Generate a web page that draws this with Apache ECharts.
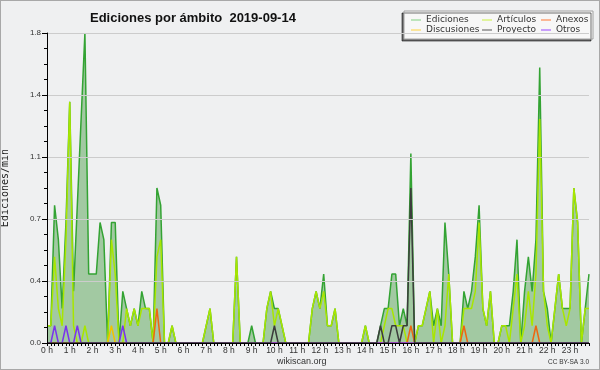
<!DOCTYPE html>
<html><head><meta charset="utf-8">
<script src="https://cdn.jsdelivr.net/npm/echarts@6/dist/echarts.min.js"></script>
<style>html,body{margin:0;padding:0;background:#eff0f1;}#c{width:598px;height:368px;border:1px solid #a8a8a8;}</style>
</head><body><div id="c"></div>
<script>
const title = 'Ediciones por ámbito  2019-09-14';
const hourLabels = ['0 h','1 h','2 h','3 h','4 h','5 h','6 h','7 h','8 h','9 h','10 h','11 h','12 h','13 h','14 h','15 h','16 h','17 h','18 h','19 h','20 h','21 h','22 h','23 h'];
const yTicks = [0, 0.36, 0.72, 1.08, 1.44, 1.8];
// 10-minute bins, 144 per day
const ediciones = [
 0.1,0.1,0.8,0.6,0.2,0.7,1.4,0.3,0.8,1.3,1.8,0.4,
 0.4,0.4,0.7,0.6,0,0.7,0.7,0,0.3,0.2,0.1,0.2,
 0.1,0.3,0.2,0.2,0,0.9,0.8,0,0,0.1,0,0,
 0,0,0,0,0,0,0.1,0.2,0,0,0,0,
 0,0,0.5,0,0,0,0.1,0,0,0,0.2,0.3,
 0.2,0.2,0.1,0,0,0,0,0,0,0,0.2,0.3,
 0.2,0.4,0.1,0.1,0.2,0,0,0,0,0,0,0,
 0.1,0,0,0,0.1,0.2,0.2,0.4,0.4,0.1,0.2,0.1,
 1.1,0,0.1,0.1,0.2,0.3,0.1,0.2,0.1,0.7,0.4,0,
 0,0,0.3,0.2,0.3,0.5,0.8,0.2,0.1,0.3,0,0,
 0.1,0.1,0.1,0.3,0.6,0,0.3,0.5,0.3,0.6,1.6,0.3,
 0.2,0,0.2,0.4,0.2,0.2,0.2,0.9,0.7,0,0.2,0.4
];
const articulos = [
 0.1,0.1,0.5,0.2,0.1,0.6,1.4,0.1,0,0,0.1,0,
 0,0,0,0,0,0.6,0.4,0,0,0.2,0.1,0.2,
 0.1,0.2,0.2,0.2,0,0.5,0.6,0,0,0.1,0,0,
 0,0,0,0,0,0,0.1,0.2,0,0,0,0,
 0,0,0.5,0,0,0,0,0,0,0,0.2,0.3,
 0.1,0.2,0.1,0,0,0,0,0,0,0,0.2,0.3,
 0.2,0.3,0.1,0.1,0.2,0,0,0,0,0,0,0,
 0.1,0,0,0,0,0.1,0.2,0.2,0.1,0.1,0.1,0,
 0,0,0.1,0.1,0.2,0.3,0,0.2,0,0.1,0.4,0,
 0,0,0.2,0.2,0.2,0.3,0.7,0.2,0.1,0.3,0,0,
 0.1,0.1,0,0.2,0.4,0,0.1,0.3,0.1,0.4,1.3,0.3,
 0.1,0,0.2,0.4,0.2,0.1,0.2,0.9,0.7,0,0.2,0.2
];
const discusiones = [
 0,0,0,0,0,0,0,0,0,0,0,0,
 0,0,0,0,0,0.1,0,0,0,0,0,0,
 0,0,0,0,0,0,0,0,0,0,0,0,
 0,0,0,0,0,0,0,0,0,0,0,0,
 0,0,0,0,0,0,0,0,0,0,0,0,
 0,0,0,0,0,0,0,0,0,0,0,0,
 0,0,0,0,0,0,0,0,0,0,0,0,
 0,0,0,0,0,0,0,0,0,0,0,0,
 0,0,0,0,0,0,0,0,0,0,0,0,
 0,0,0,0,0,0,0,0,0,0,0,0,
 0,0,0,0,0,0,0,0,0,0,0,0,
 0,0,0,0,0,0,0,0,0,0,0,0
];
const anexos = [
 0,0,0,0,0,0,0,0,0,0,0,0,
 0,0,0,0,0,0,0,0,0,0,0,0,
 0,0,0,0,0,0.2,0,0,0,0,0,0,
 0,0,0,0,0,0,0,0,0,0,0,0,
 0,0,0,0,0,0,0,0,0,0,0,0,
 0,0,0,0,0,0,0,0,0,0,0,0,
 0,0,0,0,0,0,0,0,0,0,0,0,
 0,0,0,0,0,0,0,0,0,0,0,0,
 0.1,0,0,0,0,0,0,0,0,0,0,0,
 0,0,0.1,0,0,0,0,0,0,0,0,0,
 0,0,0,0,0,0,0,0,0,0.1,0,0,
 0,0,0,0,0,0,0,0,0,0,0,0
];
const proyecto = [
 0,0,0,0,0,0,0,0,0,0,0,0,
 0,0,0,0,0,0,0,0,0,0,0,0,
 0,0,0,0,0,0,0,0,0,0,0,0,
 0,0,0,0,0,0,0,0,0,0,0,0,
 0,0,0,0,0,0,0,0,0,0,0,0,
 0.1,0,0,0,0,0,0,0,0,0,0,0,
 0,0,0,0,0,0,0,0,0,0,0,0,
 0,0,0,0,0.1,0,0,0.1,0.1,0,0.1,0.1,
 0.9,0,0,0,0,0,0,0,0,0,0,0,
 0,0,0,0,0,0,0,0,0,0,0,0,
 0,0,0,0,0,0,0,0,0,0,0,0,
 0,0,0,0,0,0,0,0,0,0,0,0
];
const otros = [
 0,0,0.1,0,0,0.1,0,0,0.1,0,0,0,
 0,0,0,0,0,0,0,0,0.1,0,0,0,
 0,0,0,0,0,0,0,0,0,0,0,0,
 0,0,0,0,0,0,0,0,0,0,0,0,
 0,0,0,0,0,0,0,0,0,0,0,0,
 0,0,0,0,0,0,0,0,0,0,0,0,
 0,0,0,0,0,0,0,0,0,0,0,0,
 0,0,0,0,0,0,0,0,0,0,0,0,
 0,0,0,0,0,0,0,0,0,0,0,0,
 0,0,0,0,0,0,0,0,0,0,0,0,
 0,0,0,0,0,0,0,0,0,0,0,0,
 0,0,0,0,0,0,0,0,0,0,0,0
];
const seriesColors = {Ediciones:'#33a333', 'Artículos':'#a8e600', Anexos:'#ee6611', Discusiones:'#f2c200', Proyecto:'#3c3c3c', Otros:'#7a33ee'};

const cats = ediciones.map((_, i) => String(i));

const chart = echarts.init(document.getElementById('c'));
function line(name, data, extra) {
  return Object.assign({
    name: name, type: 'line', data: data, symbol: 'none', smooth: false,
    color: seriesColors[name],
    lineStyle: { width: 1.5, color: seriesColors[name] },
    emphasis: { disabled: true }, animation: false
  }, extra || {});
}
const legendBase = {
  orient: 'vertical', top: 14, itemGap: 0, itemWidth: 10, itemHeight: 1,
  icon: 'rect', padding: 0, selectedMode: false,
  textStyle: { fontFamily: 'DejaVu Sans', fontSize: 9, color: '#333', lineHeight: 10 }
};
chart.setOption({
  backgroundColor: '#eff0f1',
  animation: false,
  title: {
    text: title, left: 84, top: 6,
    textStyle: { fontFamily: 'Liberation Sans', fontWeight: 'bold', fontSize: 13, color: '#111' }
  },
  graphic: [
    { type: 'rect', z: 5, shape: { x: 403, y: 10, width: 189, height: 28 },
      style: { fill: '#f7f7f7', stroke: '#a0a0a0', lineWidth: 1, shadowColor: 'rgba(0,0,0,0.55)', shadowOffsetX: -2, shadowOffsetY: 2, shadowBlur: 0 } },
    { type: 'text', z: 5, left: 276, top: 356,
      style: { text: 'wikiscan.org', fontFamily: 'Liberation Sans', fontSize: 9, fill: '#333' } },
    { type: 'text', z: 5, right: 10, top: 358,
      style: { text: 'CC BY-SA 3.0', fontFamily: 'Liberation Sans', fontSize: 6.5, fill: '#333' } }
  ],
  legend: [
    Object.assign({}, legendBase, { left: 410, z: 6, data: [
      { name: 'Ediciones', itemStyle: { color: '#80d080' } }, { name: 'Discusiones', itemStyle: { color: '#ffd23c' } } ] }),
    Object.assign({}, legendBase, { left: 481, z: 6, data: [
      { name: 'Artículos', itemStyle: { color: '#c8f040' } }, { name: 'Proyecto', itemStyle: { color: '#555555' } } ] }),
    Object.assign({}, legendBase, { left: 540, z: 6, data: [
      { name: 'Anexos', itemStyle: { color: '#ff7733' } }, { name: 'Otros', itemStyle: { color: '#9944ff' } } ] })
  ],
  grid: { left: 46, right: 10, top: 32, bottom: 26, containLabel: false, outerBoundsMode: 'none' },
  xAxis: {
    type: 'category', data: cats, boundaryGap: false, z: 10,
    axisLine: { lineStyle: { color: '#000', width: 1 } },
    axisTick: { interval: 0, length: 3, lineStyle: { color: '#000' } },
    axisLabel: { interval: 0, margin: 3, fontFamily: 'Liberation Sans', fontSize: 8.5, color: '#333', hideOverlap: false,
      formatter: (v, idx) => (idx % 6 === 0 ? hourLabels[idx / 6] : '') },
    splitLine: { show: false }
  },
  yAxis: {
    type: 'value', min: yTicks[0], max: yTicks[yTicks.length - 1], interval: yTicks[1] - yTicks[0], z: 10,
    name: 'Ediciones/min', nameLocation: 'middle', nameGap: 37, nameRotate: 90,
    nameTextStyle: { fontFamily: 'DejaVu Sans Mono', fontSize: 10, color: '#222' },
    axisLine: { show: true, lineStyle: { color: '#000' } },
    axisTick: { show: true, length: 5, lineStyle: { color: '#000' } },
    minorTick: { show: true, splitNumber: 4, length: 3, lineStyle: { color: '#000' } },
    axisLabel: { margin: 6, fontFamily: 'Liberation Sans', fontSize: 8, color: '#333', formatter: v => v.toFixed(1) },
    splitLine: { show: true, lineStyle: { color: '#cccccc', width: 1 } }
  },
  series: [
    line('Ediciones', ediciones, { areaStyle: { color: '#a2c9a2', opacity: 1 } }),
    line('Artículos', articulos),
    line('Discusiones', discusiones),
    line('Anexos', anexos),
    line('Otros', otros),
    line('Proyecto', proyecto)
  ]
});
</script></body></html>
